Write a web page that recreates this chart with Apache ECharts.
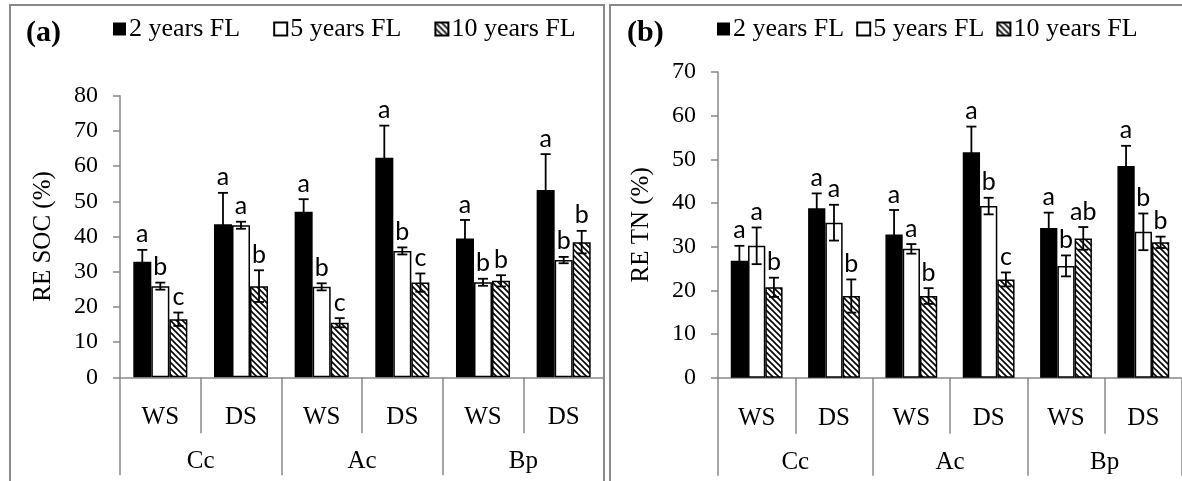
<!DOCTYPE html>
<html><head><meta charset="utf-8">
<script src="https://cdn.jsdelivr.net/npm/echarts@6/dist/echarts.min.js"></script>
<style>html,body{margin:0;padding:0;background:#fff}#c{width:1182px;height:481px}</style>
</head><body><div id="c"></div>
<script>
// ---- data ----
const subCats = ['WS','DS','WS','DS','WS','DS'];
const groups = ['Cc','Ac','Bp'];
const seriesNames = ['2 years FL','5 years FL','10 years FL'];

// (a) RE SOC (%)
const soc2 = [32.8, 43.5, 47.0, 62.4, 39.4, 53.2];
const soc2Err = [3.4, 8.9, 3.6, 9.1, 5.3, 10.2];
const soc5 = [25.9, 43.2, 25.7, 35.9, 27.0, 33.3];
const soc5Err = [1.0, 1.0, 1.0, 1.0, 1.0, 0.9];
const soc10 = [16.5, 25.9, 15.5, 26.9, 27.4, 38.4];
const soc10Err = [1.9, 4.5, 1.3, 2.6, 1.6, 3.2];
const socLet2 = ['a','a','a','a','a','a'];
const socLet5 = ['b','a','b','b','b','b'];
const socLet10 = ['c','b','c','c','b','b'];

// (b) RE TN (%)
const tn2 = [26.8, 38.8, 32.8, 51.6, 34.3, 48.5];
const tn2Err = [3.4, 3.4, 5.6, 5.9, 3.5, 4.6];
const tn5 = [30.2, 35.5, 29.5, 39.3, 25.6, 33.4];
const tn5Err = [4.2, 4.1, 1.1, 1.9, 2.4, 4.2];
const tn10 = [20.7, 18.7, 18.7, 22.5, 31.9, 31.0];
const tn10Err = [2.2, 3.8, 1.8, 1.6, 2.6, 1.3];
const tnLet2 = ['a','a','a','a','a','a'];
const tnLet5 = ['a','a','a','b','b','b'];
const tnLet10 = ['b','b','b','c','ab','b'];

const socTicks = {min:0, max:80, interval:10};
const tnTicks = {min:0, max:70, interval:10};

// ---- style ----
const SERIF = '"Liberation Serif","Times New Roman",serif';
const SANS = 'Lato, "Open Sans", sans-serif';
const GRAY = '#898989';
const CAT_GAP = 0.33;

const hatch = (function(){
  const s = 6;
  const c = document.createElement('canvas'); c.width = s; c.height = s;
  const ctx = c.getContext('2d');
  ctx.fillStyle = '#fff'; ctx.fillRect(0,0,s,s);
  ctx.strokeStyle = '#000'; ctx.lineWidth = 1.6;
  ctx.beginPath();
  ctx.moveTo(-1,-1); ctx.lineTo(s+1,s+1);
  ctx.moveTo(-2,s-2); ctx.lineTo(2,s+2);
  ctx.moveTo(s-2,-2); ctx.lineTo(s+2,2);
  ctx.stroke();
  return c;
})();

const barStyles = [
  {color:'#000'},
  {color:'#fff', borderColor:'#000', borderWidth:1.5},
  {color:{image:hatch, repeat:'repeat'}, borderColor:'#000', borderWidth:1.5}
];

function errSeries(idx, k, means, errs, letters){
  return {
    type:'custom', xAxisIndex: idx*2, yAxisIndex: idx, z: 5,
    data: means.map((m,i)=>[i, m, errs[i]]),
    renderItem: function(params, api){
      const i = api.value(0), v = api.value(1), e = api.value(2);
      const c = api.coord([i, v]);
      const cw = api.size([1,0])[0];
      const bw = cw*(1-CAT_GAP)/3;
      const x = c[0] + (k-1)*bw;
      const yt = api.coord([i, v+e])[1];
      const yb = api.coord([i, v-e])[1];
      const cap = 5;
      const st = {stroke:'#000', lineWidth:1.8};
      return {type:'group', children:[
        {type:'line', shape:{x1:x, y1:yt, x2:x, y2:yb}, style:st},
        {type:'line', shape:{x1:x-cap, y1:yt, x2:x+cap, y2:yt}, style:st},
        {type:'line', shape:{x1:x-cap, y1:yb, x2:x+cap, y2:yb}, style:st},
        {type:'text', style:{text: letters[params.dataIndex], x: x, y: yt-3,
          textAlign:'center', textVerticalAlign:'bottom', fill:'#000',
          font: '25px ' + SANS}}
      ]};
    }
  };
}

function barSeries(idx, k, data){
  return {type:'bar', name: seriesNames[k], xAxisIndex: idx*2, yAxisIndex: idx,
    data: data, barGap: '0%', barCategoryGap: (CAT_GAP*100)+'%',
    itemStyle: barStyles[k], emphasis:{disabled:true}, animation:false};
}

function xAxes(gi){
  return [
    {type:'category', gridIndex: gi, data: subCats, position:'bottom', offset:0,
      axisLine:{show:true, onZero:false, lineStyle:{color:GRAY, width:1.5}},
      axisTick:{show:true, interval:0, alignWithLabel:false, length:56, lineStyle:{color:GRAY, width:1.5}},
      axisLabel:{show:true, interval:0, color:'#000', fontFamily:SERIF, fontSize:25, margin:28}},
    {type:'category', gridIndex: gi, data: groups, position:'bottom', offset:0,
      axisLine:{show:false, onZero:false},
      axisTick:{show:true, interval:0, alignWithLabel:false, length:98, lineStyle:{color:GRAY, width:1.5}},
      axisLabel:{show:true, interval:0, color:'#000', fontFamily:SERIF, fontSize:25, margin:72}}
  ];
}

function yAxis(gi, ticks, name){
  return {type:'value', gridIndex: gi, min: ticks.min, max: ticks.max, interval: ticks.interval,
    name: name, nameLocation:'middle', nameGap: 64, nameRotate: 90,
    nameTextStyle:{color:'#000', fontFamily:SERIF, fontSize:25},
    axisLine:{show:true, lineStyle:{color:GRAY, width:1.5}},
    axisTick:{show:true, length:7, lineStyle:{color:GRAY, width:1.5}},
    axisLabel:{color:'#000', fontFamily:SERIF, fontSize:24, margin:22},
    splitLine:{show:false}};
}

const legendCommon = {
  data: seriesNames, icon:'rect', itemWidth:13, itemHeight:13, padding:0,
  selectedMode:false,
  textStyle:{color:'#000', fontFamily:SERIF, fontSize:26, padding:[0,0,0,-2]}
};

const option = {
  animation:false,
  grid:[
    {left:120, top:95.7, width:484, height:281.6},
    {left:718, top:72, width:468, height:305.7}
  ],
  legend:[
    Object.assign({left:113, top:16, itemGap:33}, legendCommon),
    Object.assign({left:717, top:16, itemGap:12}, legendCommon)
  ],
  xAxis: xAxes(0).concat(xAxes(1)),
  yAxis: [yAxis(0, socTicks, 'RE SOC (%)'), yAxis(1, tnTicks, 'RE TN (%)')],
  series: [
    barSeries(0,0,soc2), barSeries(0,1,soc5), barSeries(0,2,soc10),
    barSeries(1,0,tn2), barSeries(1,1,tn5), barSeries(1,2,tn10),
    errSeries(0,0,soc2,soc2Err,socLet2), errSeries(0,1,soc5,soc5Err,socLet5), errSeries(0,2,soc10,soc10Err,socLet10),
    errSeries(1,0,tn2,tn2Err,tnLet2), errSeries(1,1,tn5,tn5Err,tnLet5), errSeries(1,2,tn10,tn10Err,tnLet10)
  ],
  graphic:[
    {type:'rect', shape:{x:10, y:5, width:594, height:500}, style:{fill:'none', stroke:GRAY, lineWidth:2}, silent:true},
    {type:'rect', shape:{x:610, y:5, width:600, height:500}, style:{fill:'none', stroke:GRAY, lineWidth:2}, silent:true},
    {type:'text', left:26, top:18, style:{text:'(a)', font:'bold 30px ' + SERIF, fill:'#000'}},
    {type:'text', left:627, top:18, style:{text:'(b)', font:'bold 30px ' + SERIF, fill:'#000'}}
  ]
};

const chart = echarts.init(document.getElementById('c'), null, {renderer:'canvas'});
chart.setOption(option);
</script>
</body></html>
